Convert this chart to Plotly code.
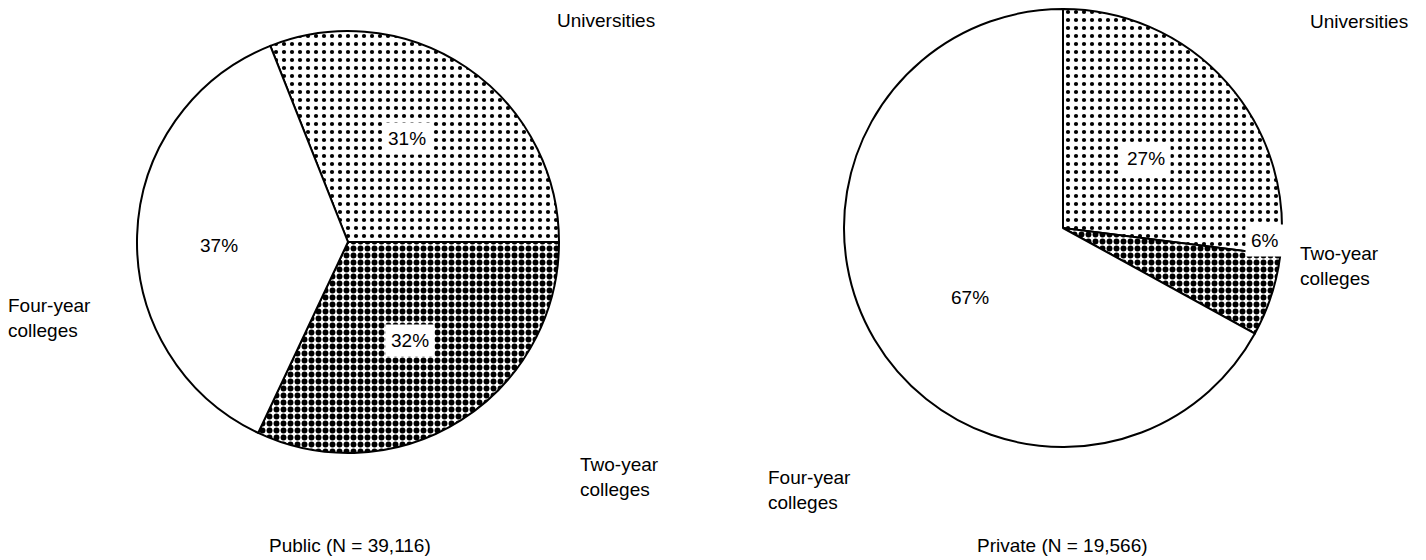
import plotly.graph_objects as go

categories = ["Universities", "Two-year colleges", "Four-year colleges"]
public_values = [31, 32, 37]
private_values = [27, 6, 67]
public_title = "Public (N = 39,116)"
private_title = "Private (N = 19,566)"

W, H = 1426, 560
FONT = "Liberation Sans, Arial, Helvetica, sans-serif"
FS = 19

patterns = dict(
    shape=[".", ".", ""],
    fgcolor="black",
    bgcolor="white",
    size=[8, 7, 8],
    solidity=[0.22, 0.55, 0.0],
    fillmode="replace",
)

def px_domain(cx, cy, r):
    return dict(x=[(cx - r) / W, (cx + r) / W], y=[(H - cy - r) / H, (H - cy + r) / H])

fig = go.Figure()
fig.add_trace(go.Pie(
    labels=categories, values=public_values, sort=False, direction="clockwise",
    rotation=-21.6, textinfo="none", hoverinfo="label+percent",
    marker=dict(colors=["white"] * 3, line=dict(color="black", width=2), pattern=patterns),
    domain=px_domain(348, 242, 211), showlegend=False,
))
fig.add_trace(go.Pie(
    labels=categories, values=private_values, sort=False, direction="clockwise",
    rotation=0, textinfo="none", hoverinfo="label+percent",
    marker=dict(colors=["white"] * 3, line=dict(color="black", width=2), pattern=patterns),
    domain=px_domain(1063, 228, 219), showlegend=False,
))

def ann(x, y, text, xanchor="center", box=False):
    d = dict(x=x / W, y=1 - y / H, xref="paper", yref="paper", text=text, showarrow=False,
             xanchor=xanchor, yanchor="middle", align="left",
             font=dict(family=FONT, size=FS, color="black"))
    if box:
        d.update(bgcolor="white", borderpad=5)
    return d

annotations = [
    # public
    ann(555, 21, categories[0], "left"),
    ann(578, 477, "Two-year<br>colleges", "left"),
    ann(6, 318, "Four-year<br>colleges", "left"),
    ann(407, 138, f"{public_values[0]}%", box=True),
    ann(410, 340, f"{public_values[1]}%", box=True),
    ann(219, 245, f"{public_values[2]}%", box=True),
    ann(350, 545, public_title),
    # private
    ann(1308, 22, categories[0], "left"),
    ann(1298, 266, "Two-year<br>colleges", "left"),
    ann(766, 490, "Four-year<br>colleges", "left"),
    ann(1146, 158, f"{private_values[0]}%", box=True),
    ann(1265, 240, f"{private_values[1]}%", box=True),
    ann(970, 297, f"{private_values[2]}%", box=True),
    ann(1062, 545, private_title),
]

fig.update_layout(
    width=W, height=H, margin=dict(l=0, r=0, t=0, b=0),
    paper_bgcolor="white", plot_bgcolor="white",
    annotations=annotations,
    font=dict(family=FONT),
)
fig.write_html("out.html", config={"displayModeBar": False},
               post_script="document.body.style.margin='0';")
